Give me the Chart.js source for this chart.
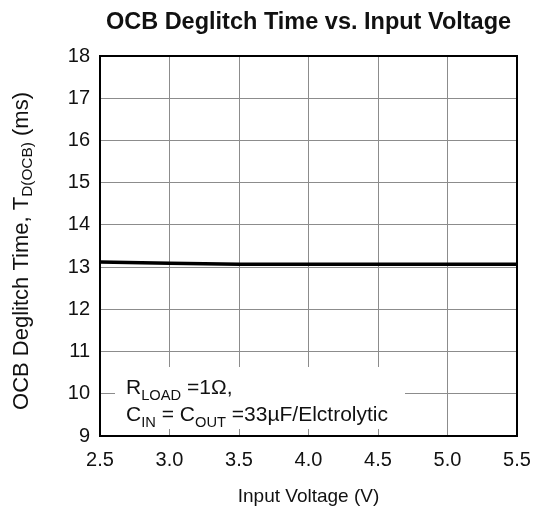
<!DOCTYPE html>
<html>
<head>
<meta charset="utf-8">
<script src="https://cdn.jsdelivr.net/npm/chart.js@4/dist/chart.umd.min.js"></script>
<style>
  html, body { margin: 0; padding: 0; background: #fff; }
  #wrap { width: 533px; height: 509px; }
</style>
</head>
<body>
<div id="wrap"><canvas id="deglitchChart"></canvas></div>
<script>
// values
const inputVoltage = [2.5, 3.0, 3.5, 4.0, 4.5, 5.0, 5.5];
const deglitchTime = [13.12, 13.09, 13.07, 13.07, 13.07, 13.07, 13.07];
const xTicks = [2.5, 3.0, 3.5, 4.0, 4.5, 5.0, 5.5];
const yTicks = [9, 10, 11, 12, 13, 14, 15, 16, 17, 18];

const FONT = '"Liberation Sans", Arial, sans-serif';

// draws text pieces, some of them as subscripts
function drawRuns(ctx, runs, x, y, size) {
  runs.forEach(function (r) {
    const s = r.sub ? size * 0.7 : size;
    ctx.font = s + 'px ' + FONT;
    ctx.fillText(r.t, x, r.sub ? y + size * 0.28 : y);
    x += ctx.measureText(r.t).width;
  });
}
function runsWidth(ctx, runs, size) {
  let w = 0;
  runs.forEach(function (r) {
    ctx.font = (r.sub ? size * 0.7 : size) + 'px ' + FONT;
    w += ctx.measureText(r.t).width;
  });
  return w;
}

const extras = {
  id: 'extras',
  beforeDatasetsDraw(chart) {
    const ctx = chart.ctx;
    const a = chart.chartArea;
    // note box hides the grid behind it
    ctx.save();
    ctx.fillStyle = '#fff';
    ctx.fillRect(a.left + 15, 367, 290, 62);
    ctx.fillStyle = '#111';
    ctx.textBaseline = 'alphabetic';
    drawRuns(ctx, [{t: 'R'}, {t: 'LOAD', sub: true}, {t: ' =1\u03A9,'}], a.left + 26, 394, 21);
    drawRuns(ctx, [{t: 'C'}, {t: 'IN', sub: true}, {t: ' = C'}, {t: 'OUT', sub: true}, {t: ' =33\u00B5F/Elctrolytic'}], a.left + 26, 421, 21);
    ctx.restore();
  },
  afterDraw(chart) {
    const ctx = chart.ctx;
    const a = chart.chartArea;
    ctx.save();
    ctx.strokeStyle = '#000';
    ctx.lineWidth = 2;
    ctx.strokeRect(a.left, a.top, a.right - a.left, a.bottom - a.top);

    ctx.fillStyle = '#111';
    ctx.textAlign = 'center';
    ctx.textBaseline = 'middle';
    ctx.font = 'bold 23.5px ' + FONT;
    ctx.fillText('OCB Deglitch Time vs. Input Voltage', (a.left + a.right) / 2, 23);

    ctx.font = '19px ' + FONT;
    ctx.fillText('Input Voltage (V)', (a.left + a.right) / 2, 497);

    // rotated y title with subscript
    const yRuns = [{t: 'OCB Deglitch Time, T'}, {t: 'D(OCB)', sub: true}, {t: ' (ms)'}];
    ctx.translate(22, 251);
    ctx.rotate(-Math.PI / 2);
    ctx.textAlign = 'left';
    ctx.textBaseline = 'middle';
    const w = runsWidth(ctx, yRuns, 22);
    drawRuns(ctx, yRuns, -w / 2, 0, 22);
    ctx.restore();
  }
};

const config = {
  type: 'line',
  data: {
    datasets: [{
      data: inputVoltage.map(function (v, i) { return {x: v, y: deglitchTime[i]}; }),
      borderColor: '#000',
      borderWidth: 3.5,
      pointRadius: 0,
      tension: 0,
      fill: false
    }]
  },
  options: {
    responsive: true,
    maintainAspectRatio: false,
    animation: false,
    layout: { padding: { left: 0, top: 56, right: 16, bottom: 0 } },
    plugins: { legend: { display: false }, tooltip: { enabled: false } },
    scales: {
      x: {
        type: 'linear',
        min: xTicks[0],
        max: xTicks[xTicks.length - 1],
        afterBuildTicks: function (s) { s.ticks = xTicks.map(function (v) { return {value: v}; }); },
        afterFit: function (s) { s.height = 73; s.paddingLeft = 0; s.paddingRight = 0; },
        grid: { color: '#8c8c8c', lineWidth: 1, drawTicks: false },
        border: { display: false },
        ticks: {
          padding: 12,
          color: '#111',
          font: { family: FONT, size: 20 },
          callback: function (v) { return v.toFixed(1); }
        }
      },
      y: {
        min: yTicks[0],
        max: yTicks[yTicks.length - 1],
        afterBuildTicks: function (s) { s.ticks = yTicks.map(function (v) { return {value: v}; }); },
        afterFit: function (s) { s.width = 100; s.paddingTop = 0; s.paddingBottom = 0; },
        grid: { color: '#8c8c8c', lineWidth: 1, drawTicks: false },
        border: { display: false },
        ticks: {
          padding: 10,
          color: '#111',
          font: { family: FONT, size: 20 }
        }
      }
    }
  },
  plugins: [extras]
};

var myChart = new Chart(document.getElementById('deglitchChart'), config);
</script>
</body>
</html>
